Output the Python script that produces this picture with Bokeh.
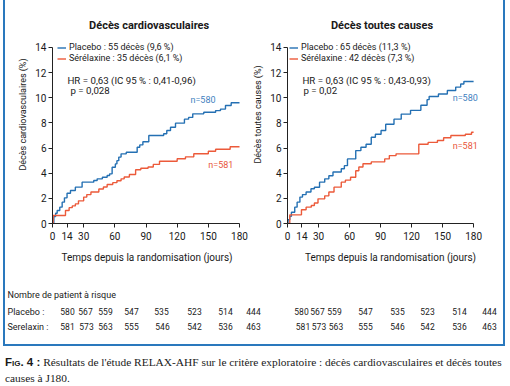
from bokeh.plotting import figure
from bokeh.models import Range1d, FixedTicker, Label, Legend, LegendItem, Div, Spacer
from bokeh.layouts import column, row
from bokeh.embed import file_html
from bokeh.resources import INLINE
from bokeh.core.properties import value

# ------------------------------------------------------------------ data
cv_placebo_days = [0, 1.3, 3, 4.5, 7, 9.3, 11.5, 14, 17.3, 22, 28.5, 39.7, 43, 48, 52.6, 55, 57.4,
                   60.5, 62, 63.8, 66, 71, 81.5, 84, 87, 92.7, 107, 110, 113.6, 118.4, 127, 131,
                   135, 145.6, 157, 161.7, 166.5, 172, 180]
cv_placebo_pct = [0, 0.56, 0.82, 1.03, 1.3, 1.7, 2.04, 2.41, 2.63, 2.89, 3.29, 3.42, 3.55, 3.68,
                  3.82, 3.95, 4.48, 4.74, 5.0, 5.28, 5.54, 5.67, 6.07, 6.25, 6.5, 7.0, 7.14, 7.4,
                  7.66, 7.98, 8.3, 8.44, 8.72, 8.85, 8.98, 9.1, 9.38, 9.6, 9.6]

cv_serelaxin_days = [0, 0.6, 12.5, 16, 19, 22, 25, 30, 33, 37, 44.6, 49, 52.6, 58, 62, 66, 69, 74,
                     80, 85, 92, 97, 103, 120, 128, 136, 150, 157, 171, 180]
cv_serelaxin_pct = [0, 0.64, 1.03, 1.26, 1.4, 1.56, 1.8, 2.1, 2.3, 2.5, 2.75, 2.9, 3.1, 3.25, 3.4,
                    3.55, 3.7, 3.9, 4.27, 4.4, 4.5, 4.7, 4.95, 5.15, 5.3, 5.55, 5.75, 5.9, 6.1, 6.1]

all_placebo_days = [0, 0.5, 2.2, 3.8, 7, 9.3, 12, 14.5, 18, 22.7, 26, 31, 36, 40, 44, 52, 55, 58,
                    66, 71, 76, 81, 85, 90.5, 95, 103, 110, 119, 129, 135, 137, 146, 154.6, 162.7,
                    167.5, 170.6, 180]
all_placebo_pct = [0, 0.3, 0.58, 0.9, 1.3, 1.7, 2.1, 2.3, 2.5, 2.76, 2.88, 3.29, 3.55, 3.8, 4.1,
                   4.35, 4.6, 5.14, 5.8, 6.07, 6.3, 6.86, 7.1, 7.4, 7.9, 8.3, 8.7, 9.0, 9.4, 9.85,
                   10.1, 10.3, 10.58, 10.85, 11.1, 11.3, 11.3]

all_serelaxin_days = [0, 2.2, 13.5, 18, 23, 26, 29.5, 36, 40, 45, 52, 56, 61, 66, 69, 73, 81, 94,
                      98.5, 105, 127, 136, 145, 151, 158, 172, 178, 180]
all_serelaxin_pct = [0, 0.69, 1.09, 1.3, 1.43, 1.63, 1.96, 2.2, 2.5, 2.89, 3.29, 3.45, 3.68, 4.2,
                     4.5, 4.75, 4.9, 5.14, 5.4, 5.54, 6.3, 6.45, 6.6, 6.82, 7.0, 7.1, 7.26, 7.26]

x_ticks = [0, 14, 30, 60, 90, 120, 150, 180]
y_ticks = [0, 2, 4, 6, 8, 10, 12, 14]

panel_titles = ["Décès cardiovasculaires", "Décès toutes causes"]
y_labels = ["Décès cardiovasculaires (%)", "Décès toutes causes (%)"]
x_label = "Temps depuis la randomisation (jours)"
legend_cv = ["Placebo : 55 décès (9,6 %)", "Sérélaxine : 35 décès (6,1 %)"]
legend_all = ["Placebo : 65 décès (11,3 %)", "Sérélaxine : 42 décès (7,3 %)"]
stats_cv = ["HR = 0,63 (IC 95 % : 0,41-0,96)", "p = 0,028"]
stats_all = ["HR = 0,63 (IC 95 % : 0,43-0,93)", "p = 0,02"]
n_labels = ["n=580", "n=581"]

risk_header = "Nombre de patient à risque"
risk_groups = ["Placebo :", "Serelaxin :"]
risk_placebo = [580, 567, 559, 547, 535, 523, 514, 444]
risk_serelaxin = [581, 573, 563, 555, 546, 542, 536, 463]

caption_lead = "Fig. 4 :"
caption_text = ("Résultats de l'étude RELAX-AHF sur le critère exploratoire : décès "
                "cardiovasculaires et décès toutes")
caption_text2 = "causes à J180."

# ------------------------------------------------------------------ style
FONT = "Roboto"
BLUE = "#2470b3"
RED = "#ec5a3a"
NBLUE = "#3f7fc0"
NRED = "#e8553a"
INK = "#1a1a1a"
FRAME = "#2a78bd"
PX_PER_DAY = 187 / 180   # the 0-180 day axis is 187 px long
Y_TOP = 17.34            # visible data height above the axis (room for title / legend)


def chart(width, mbl, mbr, pl_d, pl_v, se_d, se_v, title, title_x, ylab, leg, leg_x,
          stats, stats_x, n_pos):
    x_end = (width - mbl - mbr) / PX_PER_DAY
    p = figure(width=width, height=273, x_range=Range1d(0, x_end), y_range=Range1d(0, Y_TOP),
               output_backend="svg", toolbar_location=None,
               min_border_left=mbl, min_border_right=mbr, min_border_top=5,
               min_border_bottom=50)
    p.outline_line_color = None
    p.xgrid.visible = False
    p.ygrid.visible = False
    rb = p.step(pl_d, pl_v, mode="after", line_color=BLUE, line_width=1.4)
    rr = p.step(se_d, se_v, mode="after", line_color=RED, line_width=1.4)

    for ax, ticks in ((p.xaxis[0], x_ticks), (p.yaxis[0], y_ticks)):
        ax.ticker = FixedTicker(ticks=ticks)
        ax.minor_tick_line_color = None
        ax.major_tick_in = 0
        ax.major_tick_out = 4
        ax.axis_line_color = "#222222"
        ax.major_tick_line_color = "#222222"
        ax.major_label_text_font = FONT
        ax.major_label_text_font_size = "10px"
        ax.major_label_text_color = INK
        ax.axis_label_text_font = FONT
        ax.axis_label_text_font_style = "normal"
        ax.axis_label_text_color = INK
    p.yaxis.bounds = (0, 14)
    p.xaxis.bounds = (0, 180)
    p.xaxis.major_label_standoff = 4
    p.yaxis.major_label_standoff = 2
    p.xaxis.axis_label = x_label
    p.xaxis.axis_label_text_font_size = "10px"
    p.xaxis.axis_label_standoff = 9
    p.yaxis.axis_label = ylab
    p.yaxis.axis_label_text_font_size = "9px"
    p.yaxis.axis_label_standoff = 4

    p.add_layout(Label(x=title_x, y=15.75, text=title, text_align="center",
                       text_baseline="middle", text_font=FONT, text_font_style="bold",
                       text_font_size="11px", text_color=INK))

    legend = Legend(items=[LegendItem(label=leg[0], renderers=[rb]),
                           LegendItem(label=leg[1], renderers=[rr])],
                    location=(leg_x, 159.5), orientation="vertical")
    legend.background_fill_alpha = 0
    legend.border_line_alpha = 0
    legend.padding = 0
    legend.margin = 0
    legend.spacing = 0
    legend.label_height = 11
    legend.glyph_height = 11
    legend.glyph_width = 9
    legend.label_standoff = 3
    legend.label_text_font = FONT
    legend.label_text_font_size = "9px"
    legend.label_text_color = INK
    p.add_layout(legend)

    p.add_layout(Label(x=stats_x[0], y=11.38, text=stats[0], text_baseline="middle",
                       text_font=FONT, text_font_size="9.7px", text_color=INK))
    p.add_layout(Label(x=stats_x[1], y=10.58, text=stats[1], text_baseline="middle",
                       text_font=FONT, text_font_size="9.7px", text_color=INK))
    (bx, by), (rx, ry) = n_pos
    p.add_layout(Label(x=bx, y=by, text=n_labels[0], text_baseline="middle",
                       text_font=FONT, text_font_size="9px", text_color=NBLUE))
    p.add_layout(Label(x=rx, y=ry, text=n_labels[1], text_baseline="middle",
                       text_font=FONT, text_font_size="9px", text_color=NRED))
    return p


p1 = chart(245, 47, 9, cv_placebo_days, cv_placebo_pct, cv_serelaxin_days, cv_serelaxin_pct,
           panel_titles[0], 93, y_labels[0], legend_cv, 5, stats_cv, (14.4, 17.3),
           ((132.8, 9.86), (150, 4.69)))
p2 = chart(253, 36, 10, all_placebo_days, all_placebo_pct, all_serelaxin_days,
           all_serelaxin_pct, panel_titles[1], 91.4, y_labels[1], legend_all, 2, stats_all,
           (14.4, 15.4), ((159.8, 10.02), (159.8, 6.2)))

# ------------------------------------------------------------------ risk table
t = figure(width=498, height=71, x_range=Range1d(0, 498), y_range=Range1d(0, 71),
           output_backend="svg", toolbar_location=None, min_border=0,
           x_axis_location=None, y_axis_location=None)
t.outline_line_color = None
t.xgrid.visible = False
t.ygrid.visible = False

label_x = [2, 2, 2]
label_y = [50, 33, 18]
t.text(x=label_x, y=label_y, text=[risk_header] + risk_groups, text_align="left",
       text_baseline="middle", text_font=value(FONT), text_font_size="9px", text_color=INK)

left_pl_x = [62, 80, 100, 126, 156, 189, 220, 248]
left_se_x = [62, 81, 100, 126, 157, 189, 220, 248]
right_pl_x = [296, 312, 329, 360, 392, 422, 454, 484]
right_se_x = [297.5, 313.5, 330.5, 360, 392, 422, 454, 484]
row_pl_y = 33
row_se_y = 18
nums_x = left_pl_x + left_se_x + right_pl_x + right_se_x
nums_y = [row_pl_y] * 8 + [row_se_y] * 8 + [row_pl_y] * 8 + [row_se_y] * 8
nums = [str(v) for v in (risk_placebo + risk_serelaxin + risk_placebo + risk_serelaxin)]
t.text(x=nums_x, y=nums_y, text=nums, text_align="center", text_baseline="middle",
       text_font=value(FONT), text_font_size="8.5px", text_color=INK)

boxed = column(row(p1, p2), t, styles={"border-left": f"2px solid {FRAME}",
                                         "border-right": f"2px solid {FRAME}",
                                         "border-bottom": f"2px solid {FRAME}"})

cap_html = ('<div style="font-family:\'Liberation Serif\';font-size:11.4px;line-height:16px;'
            'color:#1a1a1a;padding-top:3px;white-space:nowrap;">'
            '<span style="font-family:\'Liberation Sans\';font-weight:bold;'
            'font-variant:small-caps;font-size:11.5px;">' + caption_lead + '</span> '
            + caption_text + '<br>' + caption_text2 + '</div>')
cap = Div(text=cap_html, width=505, height=40)

layout = column(row(Spacer(width=3), boxed), cap)

open("out.html", "w").write(file_html(layout, INLINE))
